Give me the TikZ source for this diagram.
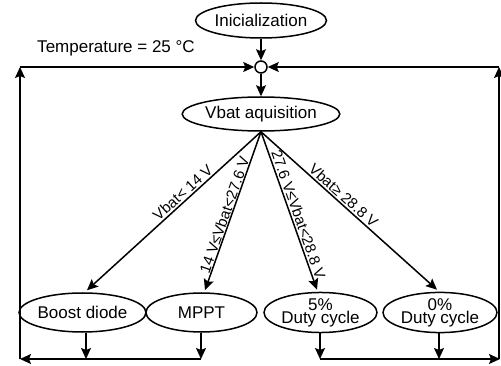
\documentclass[tikz,border=0pt]{standalone}
\usepackage{fontspec}
\setmainfont{Liberation Sans}
\usetikzlibrary{shapes.geometric,arrows.meta,calc}
\begin{document}
\begin{tikzpicture}[x=1pt,y=-1pt,line width=1.5pt,
  ell/.style={draw, ellipse, inner sep=0pt, align=center, font=\fontsize{17}{13}\selectfont},
  arr/.style={-{Stealth[length=11pt,width=10pt,inset=2pt]}},
  lab/.style={font=\fontsize{15}{15}\selectfont, sloped, inner sep=1.5pt}]
\useasboundingbox (0,0) rectangle (501,366);
\node[ell, minimum width=127pt, minimum height=35pt] (init) at (261,20.5) {Inicialization};
\node[draw, circle, minimum size=12pt, inner sep=0pt] (junc) at (261,67) {};
\node[ell, minimum width=136pt, minimum height=34pt] (vbat) at (261,114) {Vbat aquisition};
\node[font=\fontsize{17}{17}\selectfont] (temp) at (116,48) {Temperature = 25 °C};
\node[ell, minimum width=111pt, minimum height=39pt] (boost) at (82.5,312.5) {Boost diode};
\node[ell, minimum width=111pt, minimum height=39pt] (mppt) at (201.5,312.5) {MPPT};
\node[ell, minimum width=113pt, minimum height=39pt] (five) at (320.5,312.5) {5\%\\Duty cycle};
\node[ell, minimum width=114pt, minimum height=39pt] (zero) at (440,312.5) {0\%\\Duty cycle};
\coordinate (tl) at (20,67);
\coordinate (tr) at (499,67);
\coordinate (bl) at (20,359);
\coordinate (brv) at (499,359);
\coordinate (br) at (500,359);
\coordinate (b1) at (86,359);
\coordinate (b2) at (201,359);
\coordinate (b3) at (320,359);
\coordinate (b4) at (439,359);
\draw[arr] (init) -- (junc);
\draw[arr] (junc) -- (vbat);
\draw[arr] (bl) -- (tl);
\draw[arr] (tl) -- (junc);
\draw[arr] (brv) -- (tr);
\draw[arr] (tr) -- (junc);
\draw[arr] (b2) -- (bl);
\draw[arr] (b3) -- (br);
\draw[arr] (boost.south -| b1) -- (b1);
\draw[arr] (mppt.south -| b2) -- (b2);
\draw[arr] (five.south -| b3) -- (b3);
\draw[arr] (zero.south -| b4) -- (b4);
\draw[arr] (vbat.south) -- node[lab, above, pos=0.42] {Vbat< 14 V} ($(boost.north)+(4.5,-2)$);
\draw[arr] (vbat.south) -- node[lab, above, pos=0.54, inner sep=0.5pt] {14 V≤Vbat<27.6 V} ($(mppt.north)+(3.5,-2)$);
\draw[arr] (vbat.south) -- node[lab, above, pos=0.54] {27.6 V≤Vbat<28.8 V} ($(five.north)+(-3.5,-2)$);
\draw[arr] (vbat.south) -- node[lab, above, pos=0.44] {Vbat≥ 28.8 V} ($(zero.north)+(-3,-2)$);
\end{tikzpicture}
\end{document}
